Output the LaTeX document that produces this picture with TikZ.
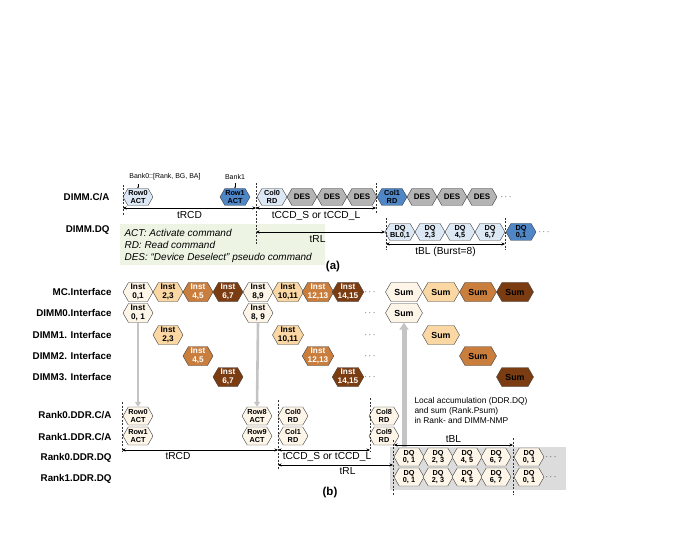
\documentclass[tikz,border=0pt]{standalone}
\usepackage{fontspec}
\setmainfont{Liberation Sans}
\usetikzlibrary{shapes.symbols,arrows.meta}
\definecolor{lblue}{HTML}{DDE8F5}
\definecolor{dblue}{HTML}{4F86C6}
\definecolor{desgray}{HTML}{B4B4B4}
\definecolor{lvA}{HTML}{FDF5E8}
\definecolor{lvB}{HTML}{FBD7A3}
\definecolor{lvC}{HTML}{C97E3E}
\definecolor{lvD}{HTML}{7A3C10}
\definecolor{legbg}{HTML}{EDF4E4}
\definecolor{arrgray}{HTML}{C4C4C4}
\definecolor{regbg}{HTML}{DCDCDC}
\begin{document}
\begin{tikzpicture}[x=1pt,y=-1pt,
  hexa/.style={signal, signal to=east and west, signal pointer angle=120,
    draw=black!75, line width=0.4pt, inner sep=0pt, minimum width=30pt,
    minimum height=17pt, font=\fontsize{7.3}{7.6}\selectfont\bfseries, align=center},
  desh/.style={hexa, fill=desgray, font=\fontsize{8}{8}\selectfont\bfseries},
  hexi/.style={hexa, minimum height=19pt, font=\fontsize{8.2}{8.4}\selectfont\bfseries},
  hexs/.style={hexa, minimum width=37pt, minimum height=19pt, font=\fontsize{8.8}{9}\selectfont\bfseries},
  hexr/.style={hexa, minimum height=18pt},
  rowlab/.style={anchor=east, font=\fontsize{9.8}{11}\selectfont\bfseries},
  tlab/.style={font=\fontsize{10.2}{11}\selectfont},
  tarr/.style={{Stealth[length=3.5pt,width=3pt]}-{Stealth[length=3.5pt,width=3pt]}, line width=0.5pt},
  vdash/.style={dash pattern=on 2pt off 1.5pt, line width=0.5pt, black!80},
  garr/.style={-{Triangle[length=5pt,width=6pt]}, line width=2.6pt, arrgray},
  dotsn/.style={font=\fontsize{9}{10}\selectfont},
  ]
\useasboundingbox (0,0) rectangle (675,540);

% ===================== (a) =====================
\node[rowlab] (lca) at (113,197) {DIMM.C/A};
\node[rowlab] (ldq) at (113,230) {DIMM.DQ};

\fill[legbg] (120,224) rectangle (325,265);
\node[anchor=west, align=left, font=\fontsize{10}{12}\selectfont\itshape] (leg) at (121,245.5)
  {ACT: Activate command\\RD: Read command\\DES: “Device Deselect” pseudo command};

\node[hexa, fill=lblue] (r0) at (138,197) {Row0\\ACT};
\node[hexa, fill=dblue] (r1) at (235,197) {Row1\\ACT};
\node[hexa, fill=lblue] (c0) at (272,197) {Col0\\RD};
\node[desh] (d1) at (302,197) {DES};
\node[desh] (d2) at (332,197) {DES};
\node[desh] (d3) at (362,197) {DES};
\node[hexa, fill=dblue] (c1) at (392,197) {Col1\\RD};
\node[desh] (d4) at (422,197) {DES};
\node[desh] (d5) at (452,197) {DES};
\node[desh] (d6) at (482,197) {DES};
\node[dotsn] (dta) at (506,197) {$\cdots$};

\node[font=\fontsize{7}{8}\selectfont] (b0) at (165,177) {Bank0::[Rank, BG, BA]};
\node[font=\fontsize{7}{8}\selectfont] (b1) at (235,177) {Bank1};
\draw[-{Stealth[length=1.6pt,width=1.6pt]}, line width=0.3pt] (b0.south -| r0) -- (r0.north);
\draw[-{Stealth[length=1.6pt,width=1.6pt]}, line width=0.3pt] (b1.south) -- (r1.north);

\node[hexa, fill=lblue] (q0) at (400,232) {DQ\\BL0,1};
\node[hexa, fill=lblue] (q1) at (430,232) {DQ\\2,3};
\node[hexa, fill=lblue] (q2) at (460,232) {DQ\\4,5};
\node[hexa, fill=lblue] (q3) at (490,232) {DQ\\6,7};
\node[hexa, fill=dblue] (q4) at (521,232) {DQ\\0,1};
\node[dotsn] (dtq) at (544,232) {$\cdots$};

% dashed verticals (a)
\coordinate (va1) at (123,185); \coordinate (va1e) at (123,216);
\coordinate (va2) at (256,183); \coordinate (va2e) at (256,245);
\coordinate (va3) at (376,183); \coordinate (va3e) at (376,214);
\coordinate (va4) at (386,218); \coordinate (va4e) at (386,250);
\coordinate (va5) at (505,218); \coordinate (va5e) at (505,250);
\draw[vdash] (va1) -- (va1e);
\draw[vdash] (va2) -- (va2e);
\draw[vdash] (va3) -- (va3e);
\draw[vdash] (va4) -- (va4e);
\draw[vdash] (va5) -- (va5e);

% timing arrows (a)
\coordinate (ta1) at (123,208); \coordinate (ta2) at (256,208); \coordinate (ta3) at (376,208);
\draw[tarr] (ta1) -- node[tlab, below=0pt] (ltrcd) {tRCD} (ta2);
\draw[tarr] (ta2) -- node[tlab, below=0pt] (ltccd) {tCCD\_S or tCCD\_L} (ta3);
\coordinate (tb1) at (256,232); \coordinate (tb2) at (385,232);
\draw[tarr] (tb1) -- node[tlab, below=0pt, xshift=-3pt] (ltrl) {tRL} (tb2);
\coordinate (tc1) at (386,244); \coordinate (tc2) at (505,244);
\draw[tarr] (tc1) -- node[tlab, below=0pt] (ltbl) {tBL (Burst=8)} (tc2);

\node[font=\fontsize{11.5}{12}\selectfont\bfseries] (capa) at (333,267) {(a)};

% ===================== (b) =====================
\node[rowlab] (lmc) at (115,292) {MC.Interface};
\node[rowlab] (ld0) at (115,313) {DIMM0.Interface};
\node[rowlab] (ld1) at (115,335) {DIMM1. Interface};
\node[rowlab] (ld2) at (115,356) {DIMM2. Interface};
\node[rowlab] (ld3) at (115,377) {DIMM3. Interface};
\node[rowlab] (lr0ca) at (115,415) {Rank0.DDR.C/A};
\node[rowlab] (lr1ca) at (115,437) {Rank1.DDR.C/A};
\node[rowlab] (lr0dq) at (115,458) {Rank0.DDR.DQ};
\node[rowlab] (lr1dq) at (115,479) {Rank1.DDR.DQ};

% MC row
\node[hexi, fill=lvA] (m0) at (138,292) {Inst\\0,1};
\node[hexi, fill=lvB] (m1) at (168,292) {Inst\\2,3};
\node[hexi, fill=lvC, text=white] (m2) at (198,292) {Inst\\4,5};
\node[hexi, fill=lvD, text=white] (m3) at (228,292) {Inst\\6,7};
\node[hexi, fill=lvA] (m4) at (258,292) {Inst\\8,9};
\node[hexi, fill=lvB] (m5) at (288,292) {Inst\\10,11};
\node[hexi, fill=lvC, text=white] (m6) at (318,292) {Inst\\12,13};
\node[hexi, fill=lvD, text=white] (m7) at (348,292) {Inst\\14,15};
\node[dotsn] (dm) at (370,292) {$\cdots$};
\node[hexs, fill=lvA] (s0) at (404,292) {Sum};
\node[hexs, fill=lvB] (s1) at (441,292) {Sum};
\node[hexs, fill=lvC] (s2) at (478,292) {Sum};
\node[hexs, fill=lvD] (s3) at (515,292) {Sum};

% DIMM rows
\node[hexi, fill=lvA] (e0) at (138,313) {Inst\\0, 1};
\node[hexi, fill=lvA] (e4) at (258,313) {Inst\\8, 9};
\node[dotsn] (de0) at (370,313) {$\cdots$};
\node[hexs, fill=lvA] (t0) at (404,313) {Sum};

\node[hexi, fill=lvB] (e1) at (168,335) {Inst\\2,3};
\node[hexi, fill=lvB] (e5) at (288,335) {Inst\\10,11};
\node[dotsn] (de1) at (370,335) {$\cdots$};
\node[hexs, fill=lvB] (t1) at (441,335) {Sum};

\node[hexi, fill=lvC, text=white] (e2) at (198,356) {Inst\\4,5};
\node[hexi, fill=lvC, text=white] (e6) at (318,356) {Inst\\12,13};
\node[dotsn] (de2) at (370,356) {$\cdots$};
\node[hexs, fill=lvC] (t2) at (478,356) {Sum};

\node[hexi, fill=lvD, text=white] (e3) at (228,377) {Inst\\6,7};
\node[hexi, fill=lvD, text=white] (e7) at (348,377) {Inst\\14,15};
\node[dotsn] (de3) at (370,377) {$\cdots$};
\node[hexs, fill=lvD] (t3) at (515,377) {Sum};

% gray region
\fill[regbg] (390,447) rectangle (566,490);

% C/A nodes
\node[hexr, fill=lvA] (ra0) at (138,416) {Row0\\ACT};
\node[hexr, fill=lvA] (ra1) at (138,436) {Row1\\ACT};
\node[hexr, fill=lvA] (ra8) at (257,416) {Row8\\ACT};
\node[hexr, fill=lvA] (ra9) at (257,436) {Row9\\ACT};
\node[hexr, fill=lvA] (ca0) at (293,416) {Col0\\RD};
\node[hexr, fill=lvA] (ca1) at (293,436) {Col1\\RD};
\node[hexr, fill=lvA] (ca8) at (384,416) {Col8\\RD};
\node[hexr, fill=lvA] (ca9) at (384,436) {Col9\\RD};

% gray arrows
\draw[garr] (e0.south) -- (ra0.north);
\draw[garr] (e4.south) -- (ra8.north);
\coordinate (gup) at (t0.south |- 0,447);
\draw[-{Triangle[length=7pt,width=9pt]}, line width=5pt, arrgray] (gup) -- (t0.south);

\node[anchor=west, align=left, font=\fontsize{8.4}{10.4}\selectfont] (note) at (411,410.5)
  {Local accumulation (DDR.DQ)\\and sum (Rank.Psum)\\in Rank- and DIMM-NMP};

% DQ nodes (b)
\node[hexr, fill=lvA] (p0) at (409,457) {DQ\\0, 1};
\node[hexr, fill=lvA] (p1) at (438,457) {DQ\\2, 3};
\node[hexr, fill=lvA] (p2) at (467,457) {DQ\\4, 5};
\node[hexr, fill=lvA] (p3) at (496,457) {DQ\\6, 7};
\node[hexr, fill=lvA] (p4) at (529,457) {DQ\\0, 1};
\node[dotsn] (dp0) at (551,457) {$\cdots$};
\node[hexr, fill=lvA] (o0) at (409,477) {DQ\\0, 1};
\node[hexr, fill=lvA] (o1) at (438,477) {DQ\\2, 3};
\node[hexr, fill=lvA] (o2) at (467,477) {DQ\\4, 5};
\node[hexr, fill=lvA] (o3) at (496,477) {DQ\\6, 7};
\node[hexr, fill=lvA] (o4) at (529,477) {DQ\\0, 1};
\node[dotsn] (dp1) at (551,477) {$\cdots$};

% dashed verticals (b)
\coordinate (vb1) at (122,402); \coordinate (vb1e) at (122,452);
\coordinate (vb2) at (278,400); \coordinate (vb2e) at (278,470);
\coordinate (vb3) at (370,398); \coordinate (vb3e) at (370,452);
\coordinate (vb4) at (393,440); \coordinate (vb4e) at (393,495);
\coordinate (vb5) at (513,438); \coordinate (vb5e) at (513,495);
\draw[vdash] (vb1) -- (vb1e);
\draw[vdash] (vb2) -- (vb2e);
\draw[vdash] (vb3) -- (vb3e);
\draw[vdash] (vb4) -- (vb4e);
\draw[vdash] (vb5) -- (vb5e);

% timing arrows (b)
\coordinate (ua1) at (122,450); \coordinate (ua2) at (278,450); \coordinate (ua3) at (370,450);
\draw[tarr] (ua1) -- node[tlab, below=-1pt, xshift=-22pt] (btrcd) {tRCD} (ua2);
\draw[tarr] (ua2) -- node[tlab, below=-1pt, xshift=3pt] (btccd) {tCCD\_S or tCCD\_L} (ua3);
\coordinate (ub1) at (278,465); \coordinate (ub2) at (393,465);
\draw[tarr] (ub1) -- node[tlab, below=-1pt, xshift=12pt] (btrl) {tRL} (ub2);
\coordinate (uc1) at (394,445); \coordinate (uc2) at (513,445);
\draw[tarr] (uc1) -- node[tlab, above=-1.5pt] (btbl) {tBL} (uc2);

\node[font=\fontsize{11.5}{12}\selectfont\bfseries] (capb) at (330,493) {(b)};
\end{tikzpicture}
\end{document}
